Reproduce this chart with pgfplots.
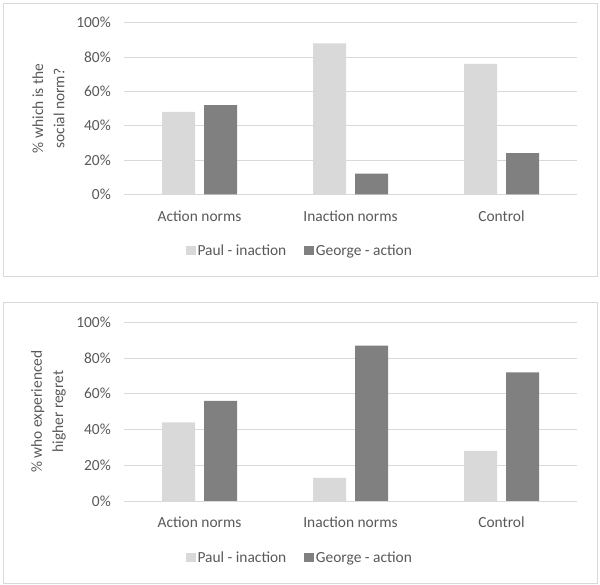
\documentclass[border=0pt]{standalone}
\usepackage{fontspec}
\setmainfont{Carlito}
\usepackage{pgfplots}
\pgfplotsset{compat=1.18}
\definecolor{txt}{HTML}{595959}
\definecolor{gridc}{HTML}{D9D9D9}
\definecolor{paul}{HTML}{D9D9D9}
\definecolor{george}{HTML}{808080}
\definecolor{frame}{HTML}{D9D9D9}
\pgfplotsset{
  mystyle/.style={
    scale only axis, width=453bp,
    xmin=-0.5, xmax=2.5, ymin=0, ymax=100,
    xtick={0,1,2}, xticklabels={Action norms,Inaction norms,Control},
    ytick={0,20,40,60,80,100},
    yticklabel={\pgfmathprintnumber{\tick}\%},
    /pgf/number format/assume math mode=true,
    axis line style={draw=none},
    major tick length=0pt,
    ymajorgrids, grid style={draw=gridc, line width=0.8bp},
    tick label style={font=\fontsize{15.5}{18}\selectfont, text=txt},
    yticklabel style={anchor=east, inner sep=0pt, xshift=-13bp},
    xticklabel style={anchor=north, inner sep=0pt, yshift=-16bp},
    ybar, bar width=33bp,
    ylabel style={at={(axis description cs:-0.1667,0.5)}, anchor=center,
      align=center, font=\fontsize{15.5}{21.5}\selectfont, text=txt},
    legend columns=2,
    legend style={draw=none, fill=none, font=\fontsize{15.5}{18}\selectfont, text=txt,
      anchor=center, /tikz/every even column/.append style={column sep=16bp},
      inner sep=0pt, nodes={inner sep=2bp}},
    legend image code/.code={\fill[##1] (0bp,-4.5bp) rectangle (9.5bp,5bp);},
  }
}
\begin{document}
\begin{tikzpicture}[x=1bp,y=1bp]
\path (0,0) rectangle (600,585);
\draw[frame, line width=0.8bp] (3,309) rectangle (597,582);
\draw[frame, line width=0.8bp] (3,1.7) rectangle (597,282.3);
\begin{axis}[mystyle, at={(124bp,390.7bp)}, anchor=south west, height=171.6bp,
  ylabel={\% which is the\\social norm?},
  legend style={at={(axis description cs:0.3885,-0.330)}}]
\addplot[fill=paul, draw=none, bar shift=-21bp] coordinates {(0,48) (1,88) (2,76)};
\addplot[fill=george, draw=none, bar shift=21bp] coordinates {(0,52) (1,12) (2,24)};
\legend{Paul - inaction, George - action}
\end{axis}
\begin{axis}[mystyle, at={(124bp,84bp)}, anchor=south west, height=178.7bp,
  ylabel={\% who experienced\\higher regret},
  legend style={at={(axis description cs:0.3885,-0.317)}}]
\addplot[fill=paul, draw=none, bar shift=-21bp] coordinates {(0,44) (1,13) (2,28)};
\addplot[fill=george, draw=none, bar shift=21bp] coordinates {(0,56) (1,87) (2,72)};
\legend{Paul - inaction, George - action}
\end{axis}
\end{tikzpicture}
\end{document}
